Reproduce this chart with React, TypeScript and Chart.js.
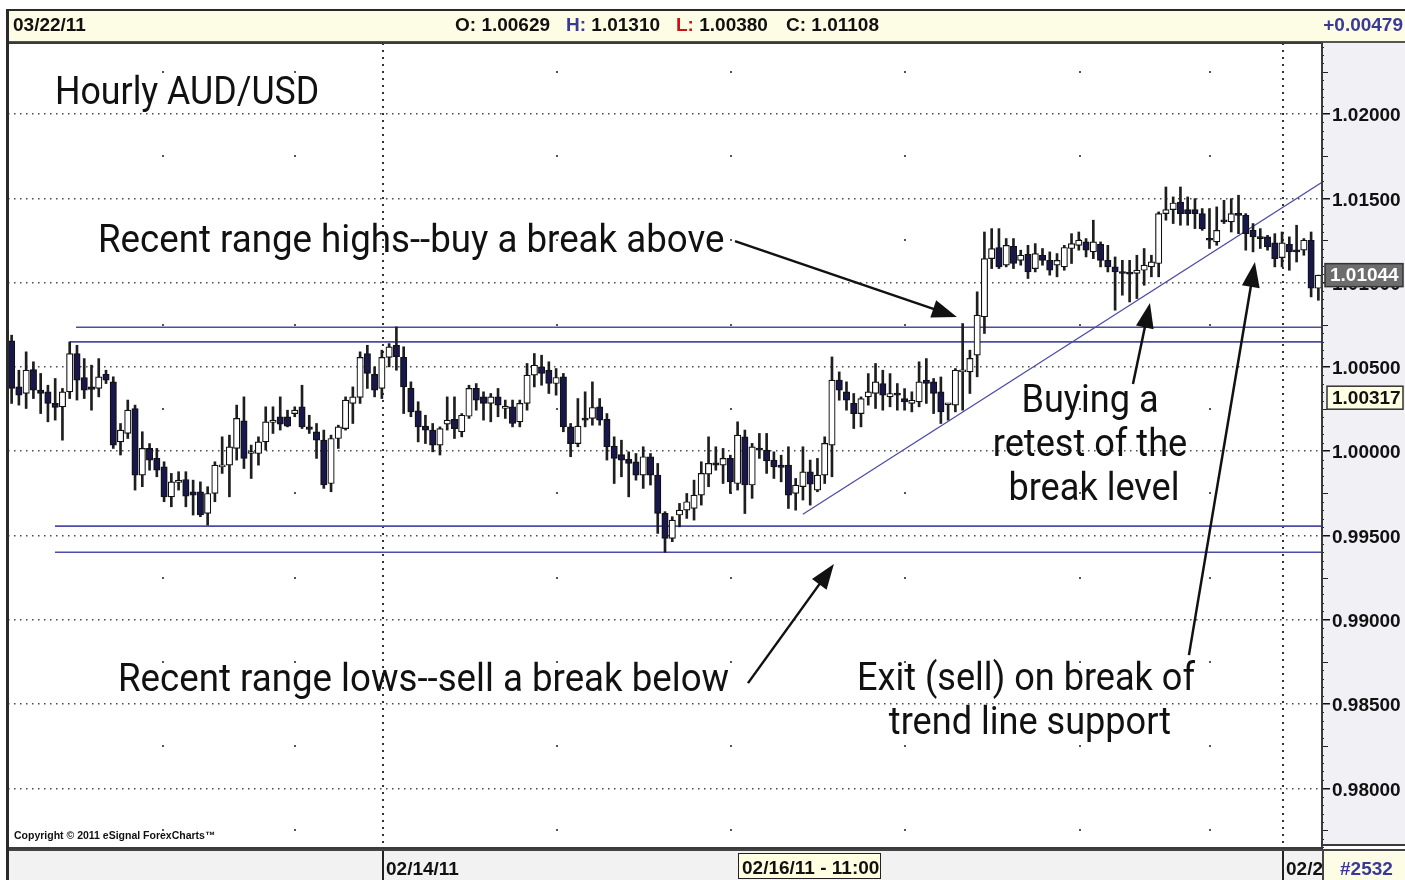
import React, { useEffect, useRef } from 'react';
import { Chart, registerables } from 'chart.js';

Chart.register(...registerables);

// ---------- data (hourly AUD/USD candles) ----------
const opens = [
  1.00654, 1.00381, 1.00342, 1.00484, 1.00362, 1.00352, 1.00283, 1.00263, 1.00352, 1.00579,
  1.00437, 1.00381, 1.00372, 1.00455, 1.00411, 1.00055, 1.00105, 1.00253, 0.99858, 1.00016,
  0.99957, 0.99907, 0.99729, 0.99814, 0.99832, 0.99759, 0.99759, 0.99631, 0.99749, 0.99907,
  0.99917, 1.00016, 1.0018, 0.99986, 0.99986, 1.00055, 1.0017, 1.00204, 1.00204, 1.00223,
  1.00263, 1.00144, 1.00115, 1.00065, 0.99808, 1.00075, 1.00134, 1.00283, 1.00319, 1.00579,
  1.00455, 1.00372, 1.00556, 1.00628, 1.00556, 1.00372, 1.00239, 1.00148, 1.00125, 1.00036,
  1.0016, 1.00188, 1.00115, 1.00207, 1.00372, 1.00322, 1.00283, 1.00322, 1.00253, 1.00263,
  1.00174, 1.00283, 1.00451, 1.005, 1.0048, 1.00401, 1.00441, 1.00144, 1.00045, 1.00194,
  1.00194, 1.00263, 1.00188, 1.0003, 0.9998, 0.99951, 0.99937, 0.99858, 0.99967, 0.99858,
  0.99631, 0.99483, 0.99621, 0.9965, 0.9966, 0.99739, 0.99864, 0.99931, 0.99917, 0.99957,
  0.99808, 1.00085, 0.99799, 1.00016, 1.00006, 0.99947, 0.99917, 0.99917, 0.99749, 0.99789,
  0.99877, 0.99769, 0.99858, 1.00036, 1.00421, 1.00352, 1.00283, 1.00223, 1.00322, 1.00342,
  1.00401, 1.00322, 1.00342, 1.00312, 1.00283, 1.00292, 1.00421, 1.00411, 1.00352, 1.00275,
  1.00273, 1.0047, 1.0047, 1.00569, 1.00797, 1.01142, 1.01208, 1.01103, 1.01215, 1.01132,
  1.01168, 1.01083, 1.01162, 1.01132, 1.01103, 1.01093, 1.01202, 1.01221, 1.01241, 1.01182,
  1.01227, 1.01132, 1.01093, 1.01063, 1.01054, 1.01054, 1.01073, 1.01093, 1.01113, 1.01409,
  1.01433, 1.01478, 1.01433, 1.01433, 1.01409, 1.01261, 1.01241, 1.0137, 1.0136, 1.01409,
  1.01399, 1.0131, 1.01271, 1.01271, 1.01235, 1.01148, 1.01227, 1.01192, 1.01192, 1.01251,
  1.00966,
];
const highs = [
  1.00688, 1.0048, 1.00589, 1.0053, 1.00461, 1.00391, 1.00431, 1.00372, 1.00648, 1.00628,
  1.00549, 1.0051, 1.00549, 1.0048, 1.00441, 1.00164, 1.00303, 1.00273, 1.00115, 1.00045,
  1.00016, 0.99937, 0.99868, 0.99878, 0.99878, 0.99828, 0.99818, 0.99789, 0.99937, 1.00085,
  1.00095, 1.00273, 1.00322, 1.00036, 1.00085, 1.00263, 1.00263, 1.00322, 1.00243, 1.00263,
  1.00391, 1.00213, 1.00164, 1.00125, 1.00095, 1.00154, 1.00322, 1.00381, 1.00589, 1.00628,
  1.005, 1.00599, 1.00638, 1.00737, 1.00619, 1.00411, 1.00293, 1.00213, 1.00164, 1.00144,
  1.00322, 1.00322, 1.00223, 1.00391, 1.00401, 1.00352, 1.00342, 1.00372, 1.00303, 1.00303,
  1.00303, 1.0052, 1.00579, 1.00569, 1.0053, 1.0049, 1.00461, 1.00164, 1.00312, 1.00352,
  1.00411, 1.00312, 1.00223, 1.00085, 1.00065, 0.99996, 0.99986, 1.00026, 0.99986, 0.99927,
  0.99641, 0.99611, 0.9969, 0.99749, 0.99828, 0.99937, 1.00085, 1.00026, 1.00016, 0.99976,
  1.00174, 1.00125, 1.00046, 1.00105, 1.00105, 0.99996, 0.99976, 1.00026, 0.99838, 1.00026,
  0.99947, 0.99957, 1.00085, 1.00559, 1.0047, 1.00411, 1.00342, 1.00322, 1.0046, 1.0052,
  1.0048, 1.0046, 1.00401, 1.00371, 1.00352, 1.0053, 1.00549, 1.00431, 1.0044, 1.00283,
  1.0049, 1.00757, 1.00599, 1.00945, 1.013, 1.0132, 1.0132, 1.01261, 1.01261, 1.01192,
  1.01221, 1.01231, 1.01202, 1.01182, 1.01172, 1.01221, 1.0129, 1.013, 1.01261, 1.0137,
  1.01241, 1.01221, 1.01152, 1.01132, 1.01132, 1.01162, 1.01202, 1.01162, 1.01419, 1.01567,
  1.01508, 1.01567, 1.01508, 1.01498, 1.01439, 1.01439, 1.01449, 1.01488, 1.01498, 1.01518,
  1.01409, 1.0135, 1.0132, 1.0128, 1.0129, 1.013, 1.01271, 1.0134, 1.01261, 1.013,
  1.01044,
];
const lows = [
  1.00283, 1.00273, 1.00253, 1.00312, 1.00223, 1.00174, 1.00184, 1.00065, 1.00312, 1.00303,
  1.00312, 1.00243, 1.00322, 1.00401, 1.00016, 0.99977, 1.00075, 0.99769, 0.99789, 0.99887,
  0.99848, 0.997, 0.9967, 0.99769, 0.9967, 0.99621, 0.99611, 0.99561, 0.997, 0.99868,
  0.99729, 0.99947, 0.99897, 0.99838, 0.99917, 1.00006, 1.00105, 1.00125, 1.00144, 1.00204,
  1.00134, 1.00105, 0.99957, 0.99779, 0.99759, 1.00016, 1.00125, 1.00164, 1.00283, 1.00372,
  1.00322, 1.00312, 1.005, 1.0048, 1.00223, 1.00204, 1.00055, 1.00045, 0.99996, 0.99977,
  1.00125, 1.00075, 1.00085, 1.00194, 1.00243, 1.00184, 1.00174, 1.00204, 1.00194, 1.00144,
  1.00144, 1.00243, 1.00381, 1.00391, 1.00342, 1.00332, 1.00115, 0.99967, 1.00026, 1.00144,
  1.00154, 1.00154, 0.99947, 0.99808, 0.99848, 0.99729, 0.99828, 0.99779, 0.99799, 0.99512,
  0.994, 0.99463, 0.99551, 0.99601, 0.99591, 0.9968, 0.99789, 0.99887, 0.99808, 0.99749,
  0.99769, 0.9963, 0.9972, 0.99957, 0.99868, 0.99838, 0.99818, 0.9966, 0.9965, 0.9971,
  0.9968, 0.99759, 0.99808, 0.99848, 1.00302, 1.00243, 1.00134, 1.00144, 1.00273, 1.00253,
  1.00243, 1.00263, 1.00243, 1.00243, 1.00233, 1.00263, 1.00283, 1.00223, 1.00164, 1.00184,
  1.00233, 1.00243, 1.00342, 1.00441, 1.00698, 1.01083, 1.01083, 1.01093, 1.01083, 1.01103,
  1.01024, 1.01063, 1.01103, 1.01044, 1.01034, 1.01073, 1.01113, 1.01192, 1.01152, 1.01142,
  1.01093, 1.01063, 1.00836, 1.00925, 1.00885, 1.00905, 1.00984, 1.01034, 1.01034, 1.0137,
  1.0135, 1.0134, 1.0134, 1.0132, 1.0131, 1.01202, 1.01221, 1.0135, 1.013, 1.0129,
  1.01192, 1.01182, 1.01202, 1.01192, 1.01093, 1.01093, 1.01073, 1.01122, 1.01162, 1.00915,
  1.00895,
];
const closes = [
  1.00372, 1.00332, 1.0048, 1.00362, 1.00342, 1.00283, 1.00259, 1.00352, 1.00579, 1.00421,
  1.00362, 1.00366, 1.00441, 1.00421, 1.00036, 1.00125, 1.00243, 0.99858, 1.00016, 0.99947,
  0.99887, 0.99729, 0.99818, 0.99828, 0.99733, 0.99739, 0.99621, 0.99749, 0.99917, 0.99917,
  1.00026, 1.00194, 0.99957, 0.99996, 1.00055, 1.00174, 1.00184, 1.0016, 1.00148, 1.00243,
  1.00144, 1.00129, 1.00065, 0.99799, 1.00075, 1.00144, 1.00303, 1.00322, 1.00556, 1.00461,
  1.00362, 1.00556, 1.00619, 1.0056, 1.00381, 1.00233, 1.00144, 1.00125, 1.00036, 1.00134,
  1.00184, 1.00134, 1.00213, 1.00372, 1.00303, 1.00283, 1.00322, 1.00273, 1.00267, 1.00164,
  1.00283, 1.00451, 1.0051, 1.00461, 1.00401, 1.00437, 1.00144, 1.00045, 1.00148, 1.00184,
  1.00259, 1.00184, 1.00026, 0.99957, 0.99947, 0.99927, 0.99858, 0.99967, 0.99858, 0.99631,
  0.99483, 0.99591, 0.9965, 0.997, 0.99739, 0.99868, 0.99927, 0.99917, 0.99957, 0.99818,
  1.00095, 0.99799, 1.00026, 1.00006, 0.99942, 0.99907, 0.99903, 0.99739, 0.99798, 0.99877,
  0.99804, 0.99858, 1.00046, 1.00421, 1.00362, 1.00302, 1.00223, 1.00312, 1.00352, 1.00411,
  1.00332, 1.00342, 1.00332, 1.00292, 1.00302, 1.00411, 1.00401, 1.00342, 1.00233, 1.0028,
  1.0048, 1.0048, 1.0055, 1.00807, 1.01142, 1.01202, 1.01093, 1.01221, 1.01113, 1.01162,
  1.01063, 1.01172, 1.01132, 1.01073, 1.01132, 1.01208, 1.01231, 1.01251, 1.01192, 1.01241,
  1.01132, 1.01093, 1.01063, 1.01054, 1.0105, 1.01073, 1.01103, 1.01123, 1.01409, 1.01433,
  1.01472, 1.01409, 1.01409, 1.01409, 1.0132, 1.01251, 1.0131, 1.0136, 1.01409, 1.01399,
  1.0129, 1.01271, 1.01261, 1.01211, 1.01142, 1.01235, 1.01182, 1.01182, 1.01251, 1.00966,
  1.01044,
];

const priceTicks = [0.98, 0.985, 0.99, 0.995, 1.0, 1.005, 1.01, 1.015, 1.02];
const priceMin = 0.97646;
const priceMax = 1.02421;
const dateSeparators = [51.15, 175.12];
const sessionMarks = [20.85, 39.03, 75.12, 99.09, 123.06, 147.16, 165.07];
const sessionLevels = [0.9775, 0.9825, 0.9875, 0.9925, 0.9975, 1.0025, 1.0075, 1.0125, 1.0175, 1.0225];
const rangeLevels = [1.00735, 1.00648, 0.99555, 0.994];
const rangeStarts = [8.87, 8.0, 5.97, 5.97];
const trendStart = [108.99, 0.99626];
const trendEnd = [180.5, 1.01595];
const arrowTails = [
  [99.64, 1.01246],
  [101.43, 0.98624],
  [154.46, 1.00398],
  [162.17, 0.9879],
];
const arrowTips = [
  [130.21, 1.00796],
  [113.27, 0.9933],
  [156.8, 1.00879],
  [171.26, 1.01122],
];
const lastPrice = 1.01044;
const markPrice = 1.00317;

// ---------- styling ----------
const UP_FILL = '#ffffff';
const DOWN_FILL = '#17174c';
const LINE_BLUE = '#4c4ca6';
const AXIS_FONT = "'Liberation Sans', Arial, sans-serif";

const decorPlugin = {
  id: 'decor',
  beforeDatasetsDraw(chart: any) {
    const { ctx, chartArea: a, scales } = chart;
    const x = scales.x;
    const y = scales.y;
    ctx.save();
    ctx.fillStyle = '#555';
    for (const m of sessionMarks) {
      const px = x.getPixelForValue(m);
      for (const lv of sessionLevels) {
        const py = y.getPixelForValue(lv);
        if (py > a.top && py < a.bottom) ctx.fillRect(Math.round(px) - 1, Math.round(py) - 1, 2, 2);
      }
    }
    ctx.restore();
  },
  beforeDraw(chart: any) {
    const { ctx, chartArea: a } = chart;
    ctx.save();
    ctx.fillStyle = '#f1f1f5';
    ctx.fillRect(a.right, a.top, chart.width - a.right, a.bottom - a.top - 3);
    ctx.restore();
  },
  afterDraw(chart: any) {
    const { ctx, chartArea: a, scales } = chart;
    const x = scales.x;
    const y = scales.y;
    ctx.save();
    // minor ticks on the price axis
    ctx.strokeStyle = '#222';
    ctx.lineWidth = 1;
    const n0 = Math.ceil(priceMin / 0.0005);
    const n1 = Math.floor(priceMax / 0.0005);
    for (let n = n0; n <= n1; n++) {
      if (n % 10 === 0) continue;
      const py = Math.round(y.getPixelForValue(n * 0.0005)) + 0.5;
      const len = n % 5 === 0 ? 6 : 2;
      ctx.beginPath();
      ctx.moveTo(a.right, py);
      ctx.lineTo(a.right + len, py);
      ctx.stroke();
    }
    // frame
    ctx.strokeStyle = '#3a3a3a';
    ctx.lineWidth = 2;
    ctx.strokeRect(a.left, a.top, a.right - a.left, a.bottom - a.top);
    ctx.beginPath();
    ctx.moveTo(a.right, a.bottom - 3);
    ctx.lineTo(chart.width, a.bottom - 3);
    ctx.stroke();

    // price boxes
    const box = (v: number, fill: string, color: string, x0: number) => {
      const py = y.getPixelForValue(v);
      ctx.fillStyle = fill;
      ctx.fillRect(x0, py - 11.5, chart.width - 2 - x0, 23);
      ctx.strokeStyle = '#333';
      ctx.lineWidth = 1.5;
      ctx.strokeRect(x0, py - 11.5, chart.width - 2 - x0, 23);
      ctx.fillStyle = color;
      ctx.font = `bold 19px ${AXIS_FONT}`;
      ctx.textBaseline = 'middle';
      ctx.textAlign = 'left';
      ctx.fillText(v.toFixed(5), x0 + 5, py + 1);
    };
    box(lastPrice, '#6d6d6d', '#ffffff', a.right + 3);
    box(markPrice, '#ffffe2', '#111111', a.right + 5);

    // annotation arrows
    ctx.strokeStyle = '#111';
    ctx.fillStyle = '#111';
    ctx.lineWidth = 2.5;
    arrowTails.forEach((t, k) => {
      const tip = arrowTips[k];
      const x1 = x.getPixelForValue(t[0]);
      const y1 = y.getPixelForValue(t[1]);
      const x2 = x.getPixelForValue(tip[0]);
      const y2 = y.getPixelForValue(tip[1]);
      const ang = Math.atan2(y2 - y1, x2 - x1);
      const headLen = 25;
      const headHalf = 9;
      const bx = x2 - Math.cos(ang) * headLen;
      const by = y2 - Math.sin(ang) * headLen;
      ctx.beginPath();
      ctx.moveTo(x1, y1);
      ctx.lineTo(bx + Math.cos(ang) * 4, by + Math.sin(ang) * 4);
      ctx.stroke();
      ctx.beginPath();
      ctx.moveTo(x2, y2);
      ctx.lineTo(bx + Math.sin(ang) * headHalf, by - Math.cos(ang) * headHalf);
      ctx.lineTo(bx - Math.sin(ang) * headHalf, by + Math.cos(ang) * headHalf);
      ctx.closePath();
      ctx.fill();
    });
    ctx.restore();
  },
};

const ann: React.CSSProperties = {
  position: 'absolute',
  fontFamily: 'Roboto, sans-serif',
  fontSize: 38,
  lineHeight: '38px',
  color: '#111',
  whiteSpace: 'nowrap',
  zIndex: 5,
};

const hdr: React.CSSProperties = {
  position: 'absolute',
  fontFamily: AXIS_FONT,
  fontWeight: 'bold',
  fontSize: 19,
  lineHeight: '19px',
  color: '#111',
  whiteSpace: 'nowrap',
  zIndex: 5,
};

function Ann({ left, base, scale = 0.965, children }: any) {
  return (
    <div style={{ ...ann, left, top: base - 32, transform: `scaleX(${scale})`, transformOrigin: 'left top' }}>
      {children}
    </div>
  );
}

function AnnC({ center, base, scale = 0.95, children }: any) {
  return (
    <div
      style={{
        ...ann,
        left: center - 250,
        width: 500,
        textAlign: 'center',
        top: base - 32,
        transform: `scaleX(${scale})`,
        transformOrigin: 'center top',
      }}
    >
      {children}
    </div>
  );
}

export default function App() {
  const ref = useRef<HTMLCanvasElement>(null);

  useEffect(() => {
    if (!ref.current) return;
    const idx = opens.map((_, i) => i);
    const bodies = idx.map((i) => ({ x: i, y: [Math.min(opens[i], closes[i]), Math.max(opens[i], closes[i])] }));
    const wicks = idx.map((i) => ({ x: i, y: [lows[i], highs[i]] }));
    const bodyColors = idx.map((i) => (closes[i] >= opens[i] ? UP_FILL : DOWN_FILL));

    const levelSets = rangeLevels.map((v, k) => ({
      type: 'line' as const,
      data: [
        { x: rangeStarts[k], y: v },
        { x: 180.5, y: v },
      ],
      borderColor: LINE_BLUE,
      borderWidth: 1.6,
      pointRadius: 0,
      order: 3,
    }));

    const chart = new Chart(ref.current, {
      type: 'bar',
      data: {
        datasets: [
          {
            data: bodies as any,
            backgroundColor: bodyColors,
            borderColor: '#111',
            borderWidth: 1.2,
            borderSkipped: false,
            barThickness: 6.4,
            minBarLength: 2,
            grouped: false,
            order: 0,
          } as any,
          {
            data: wicks as any,
            backgroundColor: '#1e1e1e',
            borderWidth: 0,
            barThickness: 2,
            grouped: false,
            order: 1,
          } as any,
          ...levelSets,
          {
            type: 'line' as const,
            data: [
              { x: trendStart[0], y: trendStart[1] },
              { x: trendEnd[0], y: trendEnd[1] },
            ],
            borderColor: LINE_BLUE,
            borderWidth: 1.3,
            pointRadius: 0,
            order: 3,
          },
        ] as any,
      },
      options: {
        responsive: false,
        animation: false,
        devicePixelRatio: 1,
        layout: { padding: { left: 8, top: 43, right: 0, bottom: 32 } },
        plugins: { legend: { display: false }, tooltip: { enabled: false } },
        scales: {
          x: {
            type: 'linear',
            min: -0.5,
            max: 180.5,
            offset: false,
            afterBuildTicks: (s: any) => {
              s.ticks = dateSeparators.map((v) => ({ value: v }));
            },
            afterFit: (s: any) => {
              s.height = 0;
            },
            ticks: { display: false },
            grid: { color: '#333', lineWidth: 2, drawTicks: false, offset: false },
            border: { display: false, dash: [2, 5] },
          },
          y: {
            type: 'linear',
            position: 'right',
            min: priceMin,
            max: priceMax,
            afterBuildTicks: (s: any) => {
              s.ticks = priceTicks.map((v) => ({ value: v }));
            },
            afterFit: (s: any) => {
              s.width = 83;
            },
            ticks: {
              callback: (v: any) => Number(v).toFixed(5),
              color: '#111',
              padding: 2,
              labelOffset: 2,
              font: { family: AXIS_FONT, weight: 'bold', size: 19 },
            },
            grid: {
              color: '#4a4a4a',
              lineWidth: 1.5,
              drawTicks: true,
              tickLength: 8,
              tickColor: '#111',
              tickWidth: 1.5,
              tickBorderDash: [],
            },
            border: { display: true, color: '#333', width: 2, dash: [1.5, 4.5] },
          },
        },
      } as any,
      plugins: [decorPlugin as any],
    });
    return () => chart.destroy();
  }, []);

  return (
    <div style={{ position: 'absolute', left: 0, top: 0, width: 1405, height: 880, background: '#fff', overflow: 'hidden' }}>
      {/* header bar */}
      <div
        style={{
          position: 'absolute',
          left: 8,
          top: 9,
          width: 1397,
          height: 34,
          boxSizing: 'border-box',
          background: '#fdfde6',
          borderTop: '2px solid #2a2a2a',
          borderBottom: '2px solid #555',
        }}
      />
      {/* left frame */}
      <div style={{ position: 'absolute', left: 6, top: 9, width: 3, height: 871, background: '#2a2a2a', zIndex: 4 }} />
      {/* bottom bar */}
      <div
        style={{
          position: 'absolute',
          left: 8,
          top: 849,
          width: 1397,
          height: 31,
          boxSizing: 'border-box',
          background: '#f2f2f2',
          borderTop: '2px solid #444',
        }}
      />
      <div style={{ position: 'absolute', left: 1322, top: 851, width: 83, height: 29, background: '#fdfde6', borderLeft: '2px solid #444', boxSizing: 'border-box' }} />
      <div style={{ position: 'absolute', left: 382, top: 851, width: 2, height: 29, background: '#222' }} />
      <div style={{ position: 'absolute', left: 1282, top: 851, width: 2, height: 29, background: '#222' }} />
      <div
        style={{
          position: 'absolute',
          left: 738,
          top: 853,
          width: 143,
          height: 26,
          boxSizing: 'border-box',
          background: '#ffffe2',
          border: '1.5px solid #222',
        }}
      />

      <canvas ref={ref} width={1405} height={880} style={{ position: 'absolute', left: 0, top: 0 }} />

      {/* header texts */}
      <div style={{ ...hdr, left: 13, top: 15 }}>03/22/11</div>
      <div style={{ ...hdr, left: 455, top: 15 }}>O: 1.00629</div>
      <div style={{ ...hdr, left: 566, top: 15 }}>
        <span style={{ color: '#3a3a96' }}>H:</span> 1.01310
      </div>
      <div style={{ ...hdr, left: 676, top: 15 }}>
        <span style={{ color: '#cc1111' }}>L:</span> 1.00380
      </div>
      <div style={{ ...hdr, left: 786, top: 15 }}>C: 1.01108</div>
      <div style={{ ...hdr, right: 2, top: 15, color: '#3a3a96' }}>+0.00479</div>

      {/* bottom texts */}
      <div style={{ ...hdr, left: 386, top: 859 }}>02/14/11</div>
      <div style={{ ...hdr, left: 742, top: 858 }}>02/16/11 - 11:00</div>
      <div style={{ ...hdr, left: 1286, top: 859, width: 36, overflow: 'hidden' }}>02/2</div>
      <div style={{ ...hdr, left: 1340, top: 859, color: '#3a3a96' }}>#2532</div>
      <div style={{ ...hdr, left: 14, top: 830, fontSize: 10.5, lineHeight: '10.5px' }}>Copyright © 2011 eSignal ForexCharts™</div>

      {/* annotations */}
      <Ann left={55} base={104} scale={0.94}>Hourly AUD/USD</Ann>
      <Ann left={98} base={252}>Recent range highs--buy a break above</Ann>
      <Ann left={118} base={691}>Recent range lows--sell a break below</Ann>
      <AnnC center={1090} base={412}>Buying a</AnnC>
      <AnnC center={1090} base={456}>retest of the</AnnC>
      <AnnC center={1094} base={500}>break level</AnnC>
      <AnnC center={1026} base={690}>Exit (sell) on break of</AnnC>
      <AnnC center={1030} base={734}>trend line support</AnnC>
    </div>
  );
}
